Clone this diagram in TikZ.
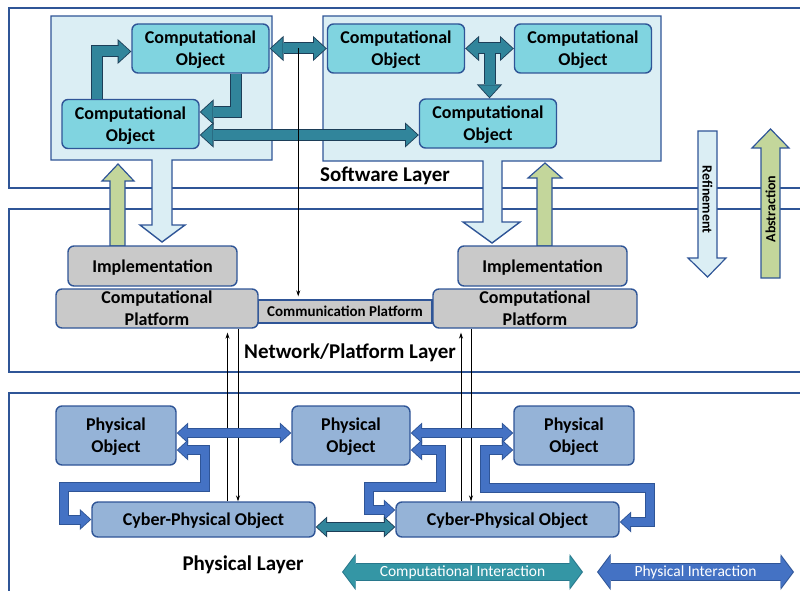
\documentclass[tikz,border=0pt]{standalone}
\usepackage{fontspec}
\setmainfont{Carlito}
\usetikzlibrary{arrows.meta,calc}
\definecolor{LayerClr}{RGB}{47,85,151}
\definecolor{PanelClr}{RGB}{219,238,244}
\definecolor{ObjClr}{RGB}{128,212,224}
\definecolor{CompClr}{RGB}{49,133,155}
\definecolor{CompEdge}{RGB}{28,62,88}
\definecolor{PlatClr}{RGB}{201,201,201}
\definecolor{PhysObjClr}{RGB}{149,179,215}
\definecolor{PhysClr}{RGB}{68,114,196}
\definecolor{GreenClr}{RGB}{195,214,155}
\definecolor{LegendClr}{RGB}{52,150,165}
\definecolor{LegendEdge}{RGB}{40,120,140}

\begin{document}
\begin{tikzpicture}[x=1pt,y=-1pt]
\tikzset{
  layer/.style={draw=LayerClr,line width=2pt},
  panel/.style={draw=LayerClr,line width=1.4pt,fill=PanelClr,line join=miter},
  upshape/.style={draw=LayerClr,line width=1.2pt,fill=GreenClr,line join=miter},
  box/.style={draw=LayerClr,line width=1.4pt,rounded corners=6pt,align=center,inner sep=0pt,
    text depth=0pt,font=\bfseries\fontsize{18}{22}\selectfont},
  obj/.style={box,fill=ObjClr,minimum width=137pt,minimum height=49pt},
  plat/.style={box,fill=PlatClr},
  pobj/.style={box,fill=PhysObjClr},
  lbl/.style={font=\bfseries\fontsize{21}{25}\selectfont},
  side/.style={font=\bfseries\fontsize{14}{16}\selectfont},
  fat/.style n args={4}{draw=#1,line width=#2,line join=miter,shorten >=1.3pt,
    preaction={draw=#3,line width=#4,shorten >=0pt,shorten <=0pt}},
  twoway/.style={<->,shorten <=1.3pt},
  cmp/.style={fat={CompClr}{10pt}{CompEdge}{12pt}},
  phy/.style={fat={PhysClr}{8pt}{LayerClr}{10pt}},
  wire/.style={draw=black,line width=0.8pt,-{Stealth[length=6pt,width=4pt]}},
  >={Triangle[length=0pt 1.15,width=0pt 2.1,line width=0pt]},
}
\useasboundingbox (0,0) rectangle (800,591);

\begin{scope}
\clip (0,0) rectangle (800,591);
\draw[layer] (9,8) rectangle (830,188);
\draw[layer] (9,209) rectangle (830,372);
\draw[layer] (9,393) rectangle (830,620);
\end{scope}

\draw[panel] (51,16) -- (272,16) -- (272,160) -- (172,160) -- (172,225) -- (185,225) -- (162,242)
  -- (140,225) -- (152,225) -- (152,160) -- (51,160) -- cycle;
\draw[panel] (323,16) -- (661,16) -- (661,161) -- (502,161) -- (502,222) -- (520,222) -- (492,243)
  -- (463,222) -- (483,222) -- (483,161) -- (323,161) -- cycle;
\draw[upshape] (110,246) -- (110,181) -- (102,181) -- (118,164) -- (134,181) -- (125,181) -- (125,246) -- cycle;
\draw[upshape] (537,246) -- (537,178) -- (528,178) -- (545,163) -- (562,178) -- (552,178) -- (552,246) -- cycle;

\draw[panel,line width=1.2pt] (698,131) -- (717,131) -- (717,258) -- (726,258) -- (707.5,277) -- (688,258) -- (698,258) -- cycle;
\node[side,rotate=-90] (refine) at (707.5,199.5) {Refinement};
\draw[upshape] (761,278) -- (761,148) -- (752,148) -- (770.5,129) -- (789,148) -- (780,148) -- (780,278) -- cycle;
\node[side,rotate=90] (abstract) at (770.5,209) {Abstraction};

\node[obj] (co1) at (200.5,48.5) {Computational\\Object};
\node[obj] (co2) at (130.5,124) {Computational\\Object};
\node[obj] (co3) at (396,48.5) {Computational\\Object};
\node[obj] (co4) at (583,48.5) {Computational\\Object};
\node[obj] (co5) at (488,123.5) {Computational\\Object};
\node[lbl] (swlayer) at (385,176) {Software Layer};

\node[plat,rounded corners=0pt,minimum width=174pt,minimum height=23pt,
  font=\bfseries\fontsize{15}{17}\selectfont] (comm) at (345,311.5) {Communication Platform};
\node[plat,minimum width=169pt,minimum height=40pt] (impl1) at (152.5,266) {Implementation};
\node[plat,minimum width=202pt,minimum height=39pt] (cp1) at (157,308.5) {Computational\\Platform};
\node[plat,minimum width=169pt,minimum height=40pt] (impl2) at (542.5,266) {Implementation};
\node[plat,minimum width=204pt,minimum height=39pt] (cp2) at (535,308.5) {Computational\\Platform};
\node[lbl] (netlayer) at (350,353) {Network/Platform Layer};

\node[pobj,minimum width=120pt,minimum height=59pt] (po1) at (116,435.5) {Physical\\Object};
\node[pobj,minimum width=118pt,minimum height=59pt] (po2) at (351,435.5) {Physical\\Object};
\node[pobj,minimum width=120pt,minimum height=59pt] (po3) at (574,435.5) {Physical\\Object};
\node[pobj,minimum width=223pt,minimum height=35pt] (cpo1) at (203.5,519.5) {Cyber-Physical Object};
\node[pobj,minimum width=223pt,minimum height=35pt] (cpo2) at (507.5,519.5) {Cyber-Physical Object};
\node[lbl] (phylayer) at (243,565) {Physical Layer};

\draw[cmp,->] ([xshift=-33.5pt]co2.north) |- ([yshift=-3pt]co1.west);
\draw[cmp,->] ([xshift=35.5pt]co1.south) |- ([yshift=12pt]co2.east);
\draw[cmp,twoway] (co1.east) -- (co3.west);
\draw[cmp,twoway] ([yshift=-11pt]co2.east) -- ([yshift=-11pt]co2.east -| co5.west);
\draw[cmp,twoway] (co3.east) -- (co4.west);
\coordinate (tjoin) at ($(co3.east)!.5!(co4.west)+(0,5)$);
\draw[cmp,->] (tjoin) -- (tjoin |- co5.north);

\coordinate (cmid) at ($(co1.east)!.5!(co3.west)$);
\draw[wire,shorten >=3pt] (cmid) -- (cmid |- comm.north);
\draw[wire,shorten >=4pt] ([xshift=24pt]cpo1.north) -- ([xshift=24pt]cpo1.north |- cp1.south);
\draw[wire] ([xshift=34.5pt]cpo1.north |- cp1.south) -- ([xshift=34.5pt]cpo1.north);
\draw[wire,shorten >=4pt] ([xshift=-46.5pt]cpo2.north) -- ([xshift=-46.5pt]cpo2.north |- cp2.south);
\draw[wire] ([xshift=-36.5pt]cpo2.north |- cp2.south) -- ([xshift=-36.5pt]cpo2.north);

\draw[phy,twoway] ([yshift=2.5pt]po1.east) -- ([yshift=2.5pt]po1.east -| po2.west);
\draw[phy,twoway] ([yshift=2.5pt]po2.east) -- ([yshift=2.5pt]po2.east -| po3.west);
\draw[phy,twoway] ([yshift=-14.5pt]po1.east) -- ++(28,0) -- ++(0,37) -| ([xshift=-27pt]cpo1.west) -- (cpo1.west);
\draw[phy,twoway] ([yshift=-14.5pt]po2.east) -- ++(30,0) -- ++(0,37)
  -| ([xshift=-26pt,yshift=9.5pt]cpo2.west) -- ([yshift=9.5pt]cpo2.west);
\draw[phy,twoway] ([yshift=-14.5pt]po3.west) -- ++(-28,0) -- ++(0,38)
  -| ([xshift=30pt,yshift=-2.5pt]cpo2.east) -- ([yshift=-2.5pt]cpo2.east);
\draw[fat={CompClr}{8pt}{CompEdge}{10pt},twoway] ([yshift=-7.5pt]cpo1.east) -- ([yshift=-7.5pt]cpo1.east -| cpo2.west);

\coordinate (cleft) at (342,572);
\coordinate (cright) at (583,572);
\coordinate (pleft) at (597,572);
\coordinate (pright) at (794,572);
\draw[>={Triangle[length=0pt 0.75,width=0pt 2,line width=0pt]},fat={LegendClr}{16pt}{LegendEdge}{18pt},twoway]
  (cleft) -- (cright) node[midway,text=white,font=\fontsize{15.5}{17}\selectfont] {Computational Interaction};
\draw[>={Triangle[length=0pt 0.75,width=0pt 2,line width=0pt]},fat={PhysClr}{16pt}{LayerClr}{18pt},twoway]
  (pleft) -- (pright) node[midway,text=white,font=\fontsize{15.5}{17}\selectfont] {Physical Interaction};

\end{tikzpicture}
\end{document}
